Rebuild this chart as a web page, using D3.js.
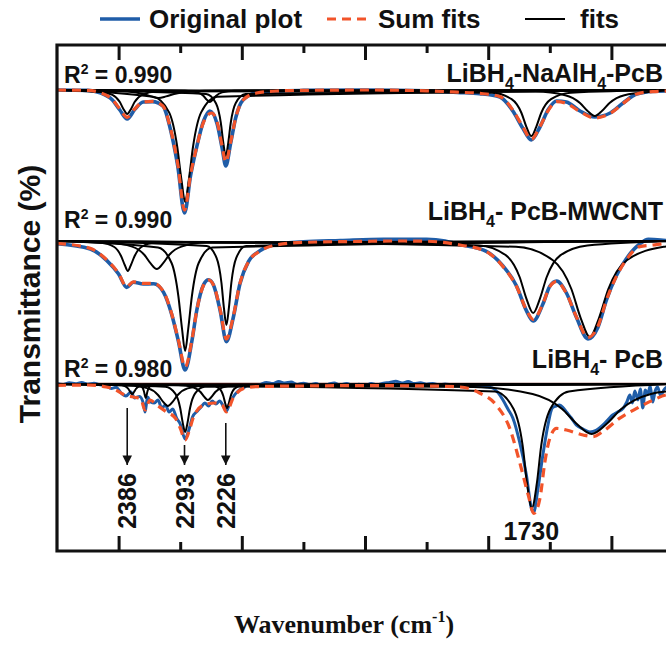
<!DOCTYPE html>
<html>
<head>
<meta charset="utf-8">
<script src="https://cdn.jsdelivr.net/npm/d3@7"></script>
<style>
  body {margin:0; background:#fff;}
  text {font-family:"Liberation Sans", Arial, sans-serif; font-weight:bold; fill:#111;}
</style>
</head>
<body>
<div id="chart"></div>
<script>
// ---- data: [wavenumber (cm-1), transmittance (%)] ----
var legendLabels = ["Original plot", "Sum fits", "fits"];
var r2Values = ["0.990", "0.990", "0.980"];
// sample names, alternating plain text and subscript parts
var sampleNames = [
    ["LiBH", "4", "-NaAlH", "4", "-PcB"],
    ["LiBH", "4", "- PcB-MWCNT"],
    ["LiBH", "4", "- PcB"]
];
var tickMajor = [2400, 2200, 2000, 1800, 1600];
var tickMinor = [2300, 2100, 1900, 1700];
var peakArrows = [2386, 2293, 2226];
var peakLabel = 1730;

// LiBH4-NaAlH4-PcB
var p1Original = [[2500,100],[2450,99.8],[2430,98.6],[2410,95],[2398,90],[2386,85.5],[2374,90.2],[2360,94],[2345,94.2],[2328,92],[2316,80.5],[2304,62],[2293,38.5],[2283,57.5],[2274,70.5],[2262,84.5],[2252,89.5],[2240,83],[2232,71],[2226,62],[2218,73.5],[2210,86],[2198,95],[2176,98.6],[2144,99.5],[2100,99.8],[2000,100],[1900,99.6],[1850,98.8],[1814,98.2],[1781,96.5],[1760,89.5],[1744,81],[1730,75],[1716,81.5],[1702,90.5],[1689,94.5],[1673,94],[1651,89.5],[1627,86.5],[1602,88.5],[1581,93.5],[1559,98],[1533,99.3],[1500,99.6]];
var p1Sum = [[2500,100],[2450,99.8],[2430,98.7],[2410,95.2],[2398,90.5],[2386,86.3],[2374,90.5],[2360,94],[2345,94.3],[2328,92],[2316,81],[2304,63],[2293,40],[2283,58],[2274,70.5],[2262,84],[2249,88.5],[2240,84],[2232,72],[2226,64],[2218,74],[2210,86],[2198,95],[2176,98.5],[2144,99.5],[2100,99.8],[2000,100],[1900,99.6],[1850,98.9],[1814,98.3],[1781,96.7],[1760,90],[1744,81.7],[1730,75.3],[1716,81.7],[1702,90],[1689,94.2],[1673,93.3],[1651,89.2],[1627,86],[1602,88.3],[1581,93.3],[1559,98],[1533,99.2],[1500,99.5]];
var p1Fits = [
    [[2500,100],[2434,99.3],[2410,97.6],[2398,94],[2392,90.4],[2386,88],[2380,90.4],[2374,94],[2362,97.6],[2338,99.3],[1500,100]],
    [[2500,100],[2344,96.6],[2318,88.8],[2305,72],[2298,55.2],[2292,44],[2286,55.2],[2279,72],[2266,88.8],[2240,96.6],[1500,100]],
    [[2500,100],[2258,98],[2242,93.4],[2234,83.5],[2230,73.6],[2226,67],[2222,73.6],[2218,83.5],[2210,93.4],[2194,98],[1500,100]],
    [[2500,100],[2435,99.8],[2385,99.2],[2360,98],[2347,96.8],[2335,96],[2323,96.8],[2310,98],[2285,99.2],[2235,99.8],[1500,100]],
    [[2500,100],[2292,99.6],[2272,98.8],[2262,97],[2257,95.2],[2252,94],[2247,95.2],[2242,97],[2232,98.8],[2212,99.6],[1500,100]],
    [[2500,100],[1794,98.6],[1762,95.4],[1746,88.5],[1738,81.6],[1730,77],[1722,81.6],[1714,88.5],[1698,95.4],[1666,98.6],[1500,100]],
    [[2500,100],[1723,99.2],[1675,97.4],[1651,93.5],[1639,89.6],[1627,87],[1615,89.6],[1603,93.5],[1579,97.4],[1531,99.2],[1500,100]]
];

// LiBH4-PcB-MWCNT
var p2Original = [[2500,98.6],[2446,96],[2419,90.2],[2400,83.5],[2387,76.8],[2376,79.4],[2360,78.5],[2343,78.6],[2327,74.3],[2314,63.5],[2303,50],[2292,35.5],[2281,50],[2273,65.5],[2262,78.2],[2254,80.6],[2246,78],[2235,65],[2225,49.7],[2214,61.5],[2203,78.6],[2189,89.8],[2170,95.2],[2145,98.2],[2100,99.6],[2040,100.2],[1970,100.8],[1900,100.8],[1870,100],[1846,98.2],[1803,94.8],[1776,87.5],[1754,77.5],[1738,65.2],[1727,60],[1711,68.6],[1700,77.4],[1689,80],[1673,74],[1657,62],[1638,51],[1622,56.8],[1608,70.5],[1592,82.6],[1576,91],[1554,98.5],[1540,100.8],[1520,100.5],[1500,99.8]];
var p2Sum = [[2500,98.8],[2446,96.3],[2419,90.5],[2400,83.8],[2387,77.1],[2376,79.6],[2360,78.8],[2343,78.8],[2327,74.6],[2314,63.8],[2303,50.5],[2292,37],[2281,50.5],[2273,65.5],[2262,78],[2254,80.5],[2246,78],[2235,65.5],[2225,51],[2214,62],[2203,78.8],[2189,89.7],[2170,95],[2145,98],[2100,99.3],[2007,99.8],[1950,100],[1900,99.9],[1846,98],[1803,94.7],[1776,87.2],[1754,77.2],[1738,65.5],[1727,60.8],[1711,68.8],[1700,77.2],[1689,79.7],[1673,73.8],[1657,62.2],[1638,51.8],[1622,57.2],[1608,70.5],[1592,82.2],[1576,90.5],[1554,97.2],[1532,98],[1512,98.8],[1500,99]];
var p2Fits = [
    [[2500,100],[2429,99.1],[2407,97],[2396,92.5],[2390,88],[2385,85],[2380,88],[2374,92.5],[2363,97],[2341,99.1],[1500,100]],
    [[2500,100],[2418,99.2],[2378,97.2],[2358,93],[2348,88.8],[2338,86],[2328,88.8],[2318,93],[2298,97.2],[2258,99.2],[1500,100]],
    [[2500,100],[2336,96.7],[2314,89],[2303,72.5],[2297,56],[2292,45],[2287,56],[2281,72.5],[2270,89],[2248,96.7],[1500,100]],
    [[2500,100],[2257,97.5],[2241,91.6],[2233,79],[2229,66.4],[2225,58],[2221,66.4],[2217,79],[2209,91.6],[2193,97.5],[1500,100]],
    [[2500,100],[1815,97.8],[1771,92.8],[1749,82],[1738,71.2],[1727,64],[1716,71.2],[1705,82],[1683,92.8],[1639,97.8],[1500,100]],
    [[2500,100],[1755,97.1],[1695,90.4],[1665,76],[1650,61.6],[1635,52],[1620,61.6],[1605,76],[1575,90.4],[1515,97.1],[1500,97.6]]
];

// LiBH4-PcB
var p3Original = [[2500,100.3],[2490,99.8],[2480,100.6],[2470,100.1],[2460,100.8],[2450,99.9],[2440,100.4],[2430,99.6],[2420,99.2],[2412,97.8],[2404,98.4],[2396,95.5],[2388,94],[2380,96],[2374,93],[2366,93.8],[2360,90.5],[2357,86],[2353,93.5],[2348,91],[2342,90.5],[2336,92],[2330,88],[2324,89.5],[2318,86],[2312,87.5],[2306,83],[2300,80],[2292,72.5],[2286,77],[2280,83.5],[2272,86.5],[2266,88.5],[2260,90.5],[2254,89],[2248,91.5],[2242,90],[2236,91.5],[2230,89],[2225,86.5],[2220,90],[2214,93.5],[2206,96.5],[2198,98],[2190,99.2],[2180,98.8],[2170,99.7],[2160,100.8],[2150,100.2],[2140,101.2],[2130,100.5],[2120,101],[2110,99.8],[2100,100.4],[2090,99.6],[2080,100.2],[2070,99.2],[2060,99.8],[2050,100.5],[2040,99.5],[2030,100.3],[2020,99.4],[2010,99.9],[2000,99.3],[1990,100.2],[1980,99.6],[1970,100.4],[1960,100.8],[1950,101.4],[1940,100.5],[1930,101.2],[1920,100.2],[1910,100.6],[1900,99.9],[1890,100.3],[1880,99.6],[1870,100],[1860,99.5],[1850,99.2],[1840,99.6],[1830,99.1],[1820,99.3],[1810,98.8],[1800,98.5],[1793,98],[1785,96],[1776,92],[1768,87.5],[1760,83],[1749,71],[1738,54.5],[1730,38],[1726,36],[1720,46],[1712,63],[1703,79.5],[1696,88],[1690,89],[1684,89.5],[1678,88],[1673,86],[1665,83],[1657,79.5],[1646,77.5],[1635,76],[1624,77],[1614,79.5],[1606,82],[1598,84.5],[1590,86],[1581,87.8],[1575,91],[1570,94.5],[1566,90.5],[1562,96.5],[1557,92],[1553,97.5],[1549,88],[1545,97],[1541,95],[1537,99],[1533,91],[1529,96.5],[1525,98.5],[1520,94],[1515,97],[1510,98.5],[1505,99],[1500,99.2]];
var p3Sum = [[2500,99.3],[2450,99.5],[2420,98.5],[2408,97.5],[2390,94.5],[2376,93.5],[2364,92.5],[2357,87],[2349,92],[2338,89.5],[2322,86],[2308,83],[2300,78],[2292,72],[2284,78],[2279,83],[2262,89.5],[2244,90.5],[2232,89.5],[2225,86],[2214,93],[2197,97.8],[2176,98.7],[2100,99],[2000,99.2],[1900,99],[1846,98.5],[1814,95.5],[1787,89.5],[1765,77.8],[1749,61],[1735,44.5],[1726,35.3],[1716,42.8],[1708,61],[1700,72.8],[1689,77.8],[1673,77],[1646,74.5],[1630,73.7],[1614,76.2],[1587,82.8],[1559,87.8],[1532,92],[1512,94.5],[1500,95]];
var p3Fits = [
    [[2500,100],[2402,99.7],[2390,99],[2384,97.5],[2381,96],[2378,95],[2375,96],[2372,97.5],[2366,99],[2354,99.7],[1500,100]],
    [[2500,100],[2368,99.6],[2362,98.6],[2359,96.5],[2356,93],[2353,96.5],[2350,98.6],[2344,99.6],[1500,100]],
    [[2500,100],[2384,99.3],[2352,97.8],[2336,94.5],[2328,91.2],[2320,89],[2312,91.2],[2304,94.5],[2288,97.8],[2256,99.3],[1500,100]],
    [[2500,100],[2324,98.6],[2308,95.2],[2300,88],[2296,80.8],[2292,76],[2288,80.8],[2284,88],[2276,95.2],[2260,98.6],[1500,100]],
    [[2500,100],[2303,99.5],[2279,98.4],[2267,96],[2261,93.6],[2255,92],[2249,93.6],[2243,96],[2231,98.4],[2207,99.5],[1500,100]],
    [[2500,100],[2248,99.3],[2236,97.6],[2230,94],[2227,90.4],[2224,88],[2221,90.4],[2218,94],[2212,97.6],[2200,99.3],[1500,100]],
    [[2500,100],[1789,96.3],[1759,87.6],[1744,69],[1737,50.4],[1729,38],[1721,50.4],[1714,69],[1699,87.6],[1669,96.3],[1500,100]],
    [[2500,100],[1824,98.5],[1728,95],[1680,87.5],[1656,80],[1632,75],[1608,80],[1584,87.5],[1536,95],[1500,96.5]]
];

var panels = [
    {original: p1Original, sum: p1Sum, fits: p1Fits},
    {original: p2Original, sum: p2Sum, fits: p2Fits},
    {original: p3Original, sum: p3Sum, fits: p3Fits}
];

// ---- layout ----
var width = 666, height = 645,
    frame = {left: 57, right: 673, top: 45, bottom: 551},
    baselines = [90, 241, 384],   // pixel row of the 100 % line of each panel
    blue = "#1f5da8", orange = "#f2542a";

var x = d3.scaleLinear().domain([2500, 1500]).range([frame.left, frame.right]);
var y = d3.scaleLinear().domain([0, 100]).range([200, 0]);   // 1 % = 2 px
var line = d3.line()
    .x(function(d) {return x(d[0]);})
    .y(function(d) {return y(d[1]);})
    .curve(d3.curveMonotoneX);

var svg = d3.select("#chart").append("svg")
    .attr("width", width)
    .attr("height", height);

svg.append("defs").append("clipPath").attr("id", "plotclip")
  .append("rect")
    .attr("x", frame.left).attr("y", frame.top)
    .attr("width", frame.right - frame.left).attr("height", frame.bottom - frame.top);

svg.select("defs").append("marker")
    .attr("id", "arrowhead")
    .attr("viewBox", "0 0 10 10")
    .attr("refX", 10).attr("refY", 5)
    .attr("markerWidth", 6).attr("markerHeight", 7)
    .attr("markerUnits", "strokeWidth")
    .attr("orient", "auto")
  .append("path").attr("d", "M0,0 L10,5 L0,10 z").attr("fill", "#111");

var plot = svg.append("g").attr("clip-path", "url(#plotclip)");

panels.forEach(function(p, i) {
    var g = plot.append("g").attr("transform", "translate(0," + baselines[i] + ")");

    if (i == 2) {   // brownish baseline under the noisy bottom spectrum
        g.append("line")
            .attr("x1", frame.left).attr("x2", frame.right)
            .attr("y1", y(100)).attr("y2", y(100))
            .attr("stroke", "#6e2420").attr("stroke-width", 2.5);
    }
    g.append("path")
        .datum(p.original)
        .attr("fill", "none")
        .attr("stroke", blue)
        .attr("stroke-width", i == 2 ? 3 : 3.6)
        .attr("stroke-linejoin", "round")
        .attr("d", line);

    g.selectAll(".fit")
        .data(p.fits)
      .enter().append("path")
        .attr("class", "fit")
        .attr("fill", "none")
        .attr("stroke", "#000")
        .attr("stroke-width", 2)
        .attr("d", line);

    g.append("path")
        .datum(p.sum)
        .attr("fill", "none")
        .attr("stroke", orange)
        .attr("stroke-width", 3.2)
        .attr("stroke-dasharray", "9,6")
        .attr("d", line);
});

// frame with inward ticks (major every 200, minor every 100 cm-1)
svg.append("path")
    .attr("d", "M" + frame.right + "," + frame.top + "H" + frame.left + "V" + frame.bottom + "H" + frame.right)
    .attr("fill", "none").attr("stroke", "#111").attr("stroke-width", 3.2);

function ticks(values, size, yPos, down) {
    var axis = (down ? d3.axisBottom(x) : d3.axisTop(x))
        .tickValues(values).tickSize(size).tickFormat("");
    var a = svg.append("g").attr("transform", "translate(0," + yPos + ")").call(axis);
    a.select(".domain").remove();
    a.selectAll(".tick line").attr("stroke", "#111").attr("stroke-width", 3);
}
ticks(tickMajor, 15, frame.bottom, false);
ticks(tickMinor, 9, frame.bottom, false);
ticks(tickMajor, 15, frame.top, true);
ticks(tickMinor, 8, frame.top, true);

// R² values and sample names
var r2Base = [83, 228, 377], nameBase = [82, 220, 368];
r2Values.forEach(function(v, i) {
    var t = svg.append("text").attr("x", 64).attr("y", r2Base[i]).style("font-size", "23px");
    t.append("tspan").text("R");
    t.append("tspan").attr("dy", -9).style("font-size", "14px").text("2");
    t.append("tspan").attr("dy", 9).text(" = " + v);
});
sampleNames.forEach(function(parts, i) {
    var t = svg.append("text").attr("x", 663).attr("y", nameBase[i])
        .attr("text-anchor", "end").style("font-size", "25px");
    parts.forEach(function(s, k) {
        var sub = k % 2 == 1;
        t.append("tspan")
            .attr("dy", sub ? 7 : (k > 0 ? -7 : 0))
            .style("font-size", sub ? "16px" : "25px")
            .text(s);
    });
});

// peak arrows and labels on the bottom spectrum
var arrowTop = [88, 69.5, 80.5];   // transmittance where each arrow starts
var p3 = svg.append("g").attr("transform", "translate(0," + baselines[2] + ")");
peakArrows.forEach(function(w, i) {
    p3.append("line")
        .attr("x1", x(w)).attr("x2", x(w))
        .attr("y1", y(arrowTop[i])).attr("y2", y(59.5))
        .attr("stroke", "#111").attr("stroke-width", 1.6)
        .attr("marker-end", "url(#arrowhead)");
    svg.append("text")
        .attr("transform", "translate(" + (x(w) + 9) + ",501) rotate(-90)")
        .attr("text-anchor", "middle")
        .style("font-size", "25px")
        .text(w);
});
svg.append("text")
    .attr("x", x(peakLabel)).attr("y", 540)
    .attr("text-anchor", "middle")
    .style("font-size", "25px")
    .text(peakLabel);

// legend
var legendX = [100, 327, 525], legendTextX = [149, 378, 580];
legendLabels.forEach(function(lbl, i) {
    var l = svg.append("line")
        .attr("x1", legendX[i]).attr("x2", legendX[i] + 40)
        .attr("y1", 19).attr("y2", 19);
    if (i == 0) l.attr("stroke", blue).attr("stroke-width", 3.6);
    if (i == 1) l.attr("stroke", orange).attr("stroke-width", 3.2).attr("stroke-dasharray", "9,6");
    if (i == 2) l.attr("stroke", "#000").attr("stroke-width", 2);
    svg.append("text")
        .attr("x", legendTextX[i]).attr("y", 28)
        .style("font-size", "26px")
        .text(lbl);
});

// axis titles
svg.append("text")
    .attr("transform", "translate(40,294) rotate(-90)")
    .attr("text-anchor", "middle")
    .style("font-size", "30px")
    .text("Transmittance (%)");

var xt = svg.append("text")
    .attr("x", 344).attr("y", 633)
    .attr("text-anchor", "middle")
    .style("font-family", "'Liberation Serif', 'Times New Roman', serif")
    .style("font-size", "26px");
xt.append("tspan").text("Wavenumber (cm");
xt.append("tspan").attr("dy", -11).style("font-size", "16px").text("-1");
xt.append("tspan").attr("dy", 11).text(")");
</script>
</body>
</html>
